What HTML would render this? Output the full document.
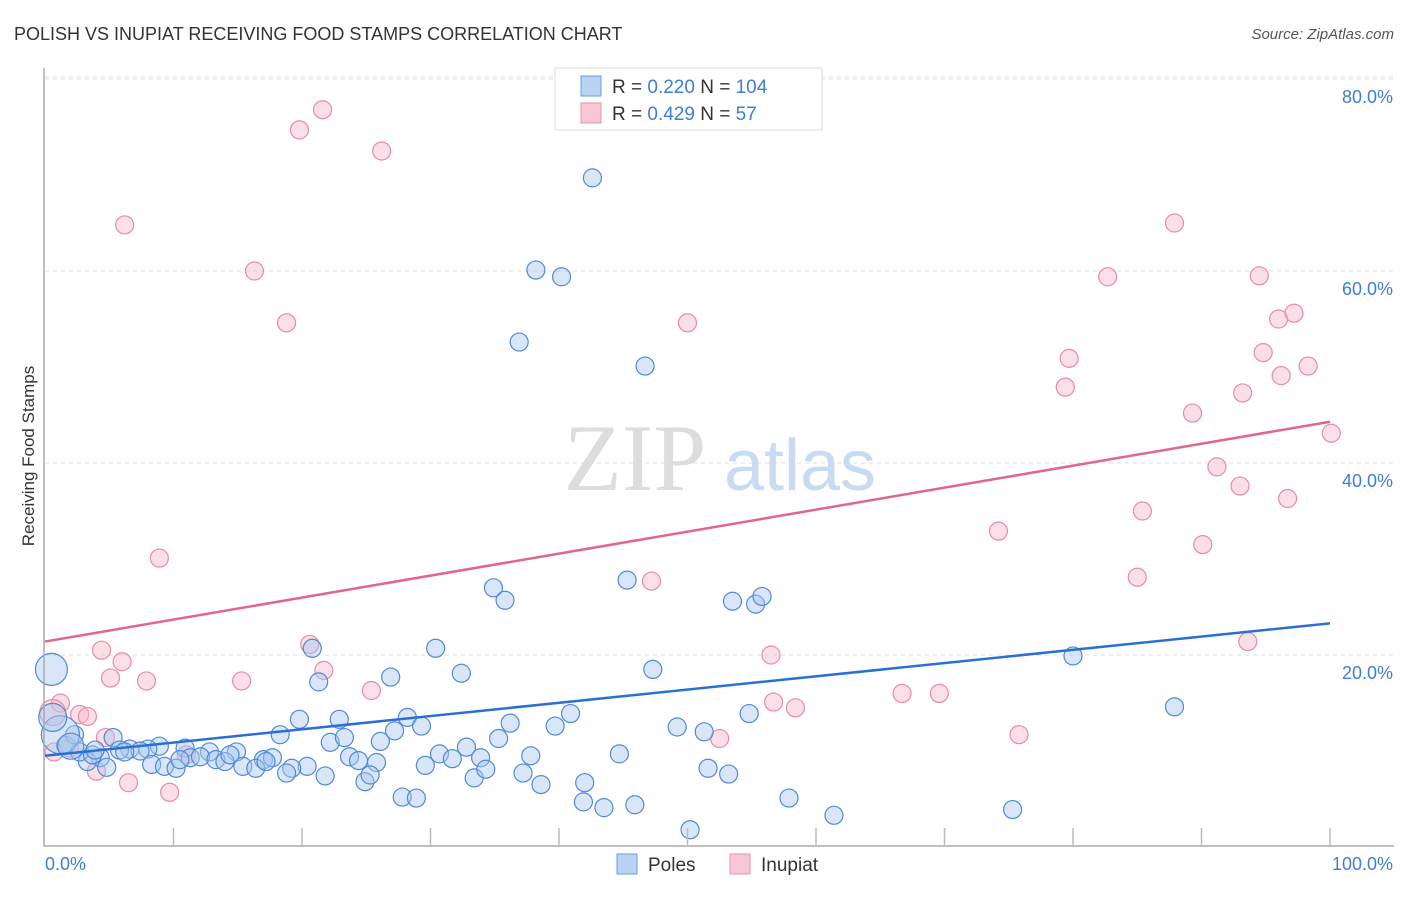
<!DOCTYPE html>
<html><head><meta charset="utf-8"><style>
body{margin:0;background:#fff;font-family:"Liberation Sans",sans-serif}
</style></head><body>
<svg id="c" width="1406" height="892" xmlns="http://www.w3.org/2000/svg" style="font-family:'Liberation Sans',sans-serif">
<text x="14" y="40" font-size="18" fill="#333">POLISH VS INUPIAT RECEIVING FOOD STAMPS CORRELATION CHART</text>
<text x="1394" y="39" font-size="15" fill="#555" font-style="italic" text-anchor="end">Source: ZipAtlas.com</text>
<text x="34" y="456" font-size="17" fill="#333" transform="rotate(-90 34 456)" text-anchor="middle">Receiving Food Stamps</text>
<g id="grid"></g>
<text x="635" y="490" font-size="95" fill="#ddd" font-family="Liberation Serif" text-anchor="middle">ZIP</text>
<text x="800" y="490" font-size="72" fill="#c9dbf2" text-anchor="middle">atlas</text>
<g id="pts"></g>
<g id="lines"></g>
<line x1="44" y1="68" x2="44" y2="846" stroke="#aaa" stroke-width="1.5"/>
<line x1="44" y1="846" x2="1394" y2="846" stroke="#aaa" stroke-width="1.5"/>
<g id="ticks"></g>
<text x="45" y="870" font-size="18" fill="#3d7fd6">0.0%</text>
<text x="1393" y="870" font-size="18" fill="#3d7fd6" text-anchor="end">100.0%</text>
<g>
<rect x="555" y="68" width="267" height="62" fill="#fff" stroke="#ddd"/>
<rect x="581" y="76" width="20" height="20" fill="#b8d3f4" stroke="#6d9ee0"/>
<rect x="581" y="103" width="20" height="20" fill="#f9c6d5" stroke="#e893ad"/>
<text x="612" y="93" font-size="19" fill="#333">R = <tspan fill="#3d7fd6">0.220</tspan>   N = <tspan fill="#3d7fd6">104</tspan></text>
<text x="612" y="120" font-size="19" fill="#333">R = <tspan fill="#3d7fd6">0.429</tspan>   N =   <tspan fill="#3d7fd6"> 57</tspan></text>
</g>
<g>
<rect x="617" y="854" width="20" height="20" fill="#b8d3f4" stroke="#6d9ee0"/>
<text x="648" y="871" font-size="19" fill="#333">Poles</text>
<rect x="730" y="854" width="20" height="20" fill="#f9c6d5" stroke="#e893ad"/>
<text x="761" y="871" font-size="19" fill="#333">Inupiat</text>
</g>
</svg>
<script>
const yTicks=[20,40,60,80];
const xTicks=[0,10,20,30,40,50,60,70,80,90,100];
const bluePx=[[593,178],[536,270],[562,277],[519,342],[645,366],[627,580],[493,588],[505,600],[733,601],[755,604],[762,596],[436,648],[312,648],[653,669],[1073,656],[461,673],[319,682],[391,677],[1174,707],[571,714],[749,714],[407,717],[299,719],[339,719],[510,723],[555,726],[677,727],[704,732],[421,726],[280,735],[395,731],[330,742],[345,738],[381,741],[498,739],[466,747],[440,754],[531,756],[619,754],[480,758],[452,759],[349,757],[359,761],[376,763],[426,765],[307,766],[292,768],[263,760],[273,758],[236,752],[210,752],[185,748],[159,746],[148,749],[130,749],[113,738],[100,758],[88,762],[65,745],[80,752],[93,755],[107,767],[120,750],[140,751],[152,764],[165,766],[176,768],[190,758],[200,757],[216,760],[225,762],[243,766],[256,768],[266,762],[287,773],[325,776],[365,782],[370,775],[474,778],[486,769],[523,773],[541,785],[585,783],[402,797],[416,798],[584,802],[604,808],[635,805],[690,830],[708,768],[729,774],[789,798],[834,815],[1012,810],[230,755],[180,760],[125,752],[75,735],[95,750]];
const pinkPx=[[322,110],[299,130],[382,151],[125,225],[255,271],[287,323],[688,323],[1174,223],[1108,277],[1259,276],[1278,319],[1294,313],[1263,353],[1069,358],[1065,387],[1281,376],[1308,366],[1243,393],[1193,413],[1331,433],[1217,467],[1240,486],[1287,499],[1142,511],[998,531],[1203,545],[159,558],[651,581],[1137,577],[310,644],[101,650],[122,662],[771,655],[1248,642],[324,670],[111,678],[146,681],[241,681],[371,691],[902,693],[939,693],[774,702],[796,708],[61,703],[80,715],[88,716],[1019,735],[720,739],[105,738],[70,748],[54,752],[186,755],[96,771],[129,783],[170,792]];
// convert to data values (x %, y %)
const toData=p=>[+((p[0]-45)/12.85).toFixed(1),+((847-p[1])/9.6).toFixed(1)];
const poles=bluePx.map(toData);
const inupiat=pinkPx.map(toData);
const polesBig=[[0.5,18.5,16],[1.2,11.7,19],[0.6,13.5,14],[2,10.5,13]];
const inupiatBig=[[0.6,14,13]];
const polesTrend=[9.5,23.3];
const inupiatTrend=[21.4,44.3];
const X=v=>45+v*12.85, Y=v=>847-v*9.6;
const NS='http://www.w3.org/2000/svg';
function mk(t,a,parent){const e=document.createElementNS(NS,t);for(const k in a)e.setAttribute(k,a[k]);document.getElementById(parent).appendChild(e);return e;}
yTicks.forEach(v=>{
 const l=mk('line',{x1:45,x2:1394,y1:Y(v),y2:Y(v),stroke:'#ddd','stroke-dasharray':'4,4'},'grid');
 
 
 const t=mk('text',{x:1393,y:Y(v)+24,'font-size':18,fill:'#3d7fd6','text-anchor':'end'},'grid');t.textContent=v.toFixed(1)+'%';
 
 
});
mk('line',{x1:45,x2:1394,y1:Y(80)-2,y2:Y(80)-2,stroke:'#ddd','stroke-dasharray':'4,4'},'grid');
xTicks.forEach(v=>{if(v===0)return;
 const l=mk('line',{x1:X(v),x2:X(v),y1:828,y2:846,stroke:'#bbb','stroke-width':1.5},'ticks');
 
 
});
function dots(arr,fill,stroke,name){arr.forEach(p=>{
 const c=mk('circle',{cx:X(p[0]),cy:Y(p[1]),r:p[2]||9,fill:fill,'fill-opacity':0.45,stroke:stroke,'stroke-width':1.2},'pts');
 
 
});}
dots(inupiat,'#f7b7ca','#e88aa8','inupiat-point');
dots(inupiatBig,'#f7b7ca','#e88aa8','inupiat-point');
dots(poles,'#a9c8ee','#4f8ad8','poles-point');
dots(polesBig,'#a9c8ee','#4f8ad8','poles-point');
const b=mk('line',{x1:X(0),y1:Y(polesTrend[0]),x2:X(100),y2:Y(polesTrend[1]),stroke:'#2b6fd6','stroke-width':2.5},'lines');


const p=mk('line',{x1:X(0),y1:Y(inupiatTrend[0]),x2:X(100),y2:Y(inupiatTrend[1]),stroke:'#e0658f','stroke-width':2.5},'lines');


</script>
</body></html>
